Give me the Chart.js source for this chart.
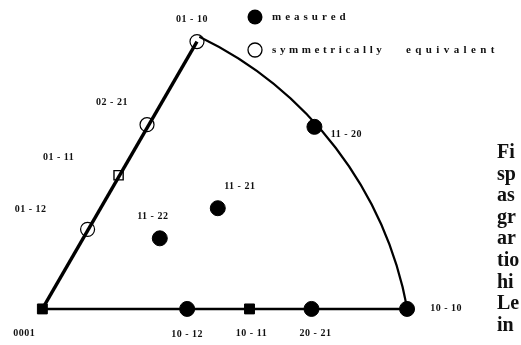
<!DOCTYPE html>
<html>
<head>
<meta charset="utf-8">
<script src="https://cdn.jsdelivr.net/npm/chart.js@4.4.1/dist/chart.umd.min.js"></script>
<style>
  html, body { margin: 0; padding: 0; background: #fff; overflow: hidden; }
  #wrap { position: relative; width: 521px; height: 345px; }
  #caption {
    position: absolute; left: 497px; top: 141px;
    font: bold 20px "Liberation Serif", serif; line-height: 21.6px;
    color: #111; white-space: pre;
  }
</style>
</head>
<body>
<div id="wrap">
  <canvas id="ipf" width="521" height="345"></canvas>
  <div id="caption">Fi
sp
as
gr
ar
tio
hi
Le
in</div>
</div>
<script>
// pole positions in the projected triangle (0001 at origin, 10-10 at x = 1)
const measuredLabels = ['10-12', '20-21', '10-10', '11-20', '11-21', '11-22'];
const measuredX = [0.397, 0.738, 1.0, 0.746, 0.481, 0.322];
const measuredY = [0, 0, 0, 0.508, 0.281, 0.197];

const measuredSqLabels = ['0001', '10-11'];
const measuredSqX = [0, 0.568];
const measuredSqY = [0, 0];

const equivLabels = ['01-10', '02-21', '01-12'];
const equivX = [0.424, 0.287, 0.124];
const equivY = [0.746, 0.514, 0.222];

const equivSqLabels = ['01-11'];
const equivSqX = [0.209];
const equivSqY = [0.373];

// triangle edges: 01-10 -> 0001 -> 10-10, closed by the outer arc
const leftEdgeX = [0.424, 0];
const leftEdgeY = [0.746, 0];
const baseEdgeX = [0, 1];
const baseEdgeY = [0, 0];
const arcCenter = [-0.0215, -0.1932];
const arcRadius = 1.0397;

const legendItems = ['measured', 'symmetrically', 'equivalent'];

const toPts = (xs, ys) => xs.map((x, i) => ({ x: x, y: ys[i] }));

// label placement around each pole, in px
const labelOffsets = {
  '0001': [-18, 24], '10-12': [0, 25], '10-11': [2, 24], '20-21': [4, 24],
  '10-10': [39, -1], '11-20': [32, 8], '11-21': [22, -22], '11-22': [-7, -22],
  '01-10': [-5, -22], '02-21': [-35, -22], '01-11': [-60, -18], '01-12': [-57, -20]
};

const arcPlugin = {
  id: 'arcEdge',
  beforeDatasetsDraw(chart) {
    const { ctx, scales } = chart;
    const sx = scales.x, sy = scales.y;
    const cx = sx.getPixelForValue(arcCenter[0]);
    const cy = sy.getPixelForValue(arcCenter[1]);
    const r = sx.getPixelForValue(arcCenter[0] + arcRadius) - cx;
    const a0 = Math.atan2(sy.getPixelForValue(leftEdgeY[0]) - cy, sx.getPixelForValue(leftEdgeX[0]) - cx);
    const a1 = Math.atan2(sy.getPixelForValue(baseEdgeY[1]) - cy, sx.getPixelForValue(baseEdgeX[1]) - cx);
    ctx.save();
    ctx.strokeStyle = '#000';
    ctx.lineWidth = 2.2;
    ctx.beginPath();
    ctx.arc(cx, cy, r, a0, a1);
    ctx.stroke();
    ctx.restore();
  }
};

const labelPlugin = {
  id: 'poleLabels',
  afterDatasetsDraw(chart) {
    const { ctx } = chart;
    ctx.save();
    ctx.fillStyle = '#111';
    ctx.font = 'bold 10px "Liberation Serif", serif';
    ctx.textAlign = 'center';
    ctx.textBaseline = 'middle';
    ctx.letterSpacing = '0.5px';
    chart.data.datasets.forEach((ds, di) => {
      if (!ds.poles) return;
      const meta = chart.getDatasetMeta(di);
      meta.data.forEach((el, i) => {
        const name = ds.poles[i];
        const off = labelOffsets[name] || [0, -14];
        ctx.fillText(name.replace('-', ' - '), el.x + off[0], el.y + off[1]);
      });
    });

    // legend
    ctx.lineWidth = 1.3;
    ctx.strokeStyle = '#000';
    ctx.fillStyle = '#000';
    ctx.beginPath();
    ctx.arc(255, 17, 7.5, 0, Math.PI * 2);
    ctx.fill();
    ctx.beginPath();
    ctx.arc(255, 50, 7, 0, Math.PI * 2);
    ctx.stroke();
    ctx.fillStyle = '#111';
    ctx.textAlign = 'left';
    ctx.font = 'bold 11px "Liberation Serif", serif';
    ctx.letterSpacing = '4px';
    ctx.fillText(legendItems[0], 272, 17);
    ctx.letterSpacing = '3.6px';
    ctx.fillText(legendItems[1], 272, 50);
    ctx.letterSpacing = '4.4px';
    ctx.fillText(legendItems[2], 406, 50);
    ctx.restore();
  }
};

new Chart(document.getElementById('ipf'), {
  type: 'scatter',
  data: {
    datasets: [
      {
        data: toPts(leftEdgeX, leftEdgeY), showLine: true, pointRadius: 0,
        borderColor: '#000', borderWidth: 3.4
      },
      {
        data: toPts(baseEdgeX, baseEdgeY), showLine: true, pointRadius: 0,
        borderColor: '#000', borderWidth: 2.6
      },
      {
        label: 'measured', poles: measuredLabels,
        data: toPts(measuredX, measuredY), pointStyle: 'circle', pointRadius: 7.5,
        backgroundColor: '#000', borderColor: '#000', borderWidth: 1
      },
      {
        label: 'measured', poles: measuredSqLabels,
        data: toPts(measuredSqX, measuredSqY), pointStyle: 'rect', pointRadius: 7,
        backgroundColor: '#000', borderColor: '#000', borderWidth: 1
      },
      {
        label: 'symmetrically equivalent', poles: equivLabels,
        data: toPts(equivX, equivY), pointStyle: 'circle', pointRadius: 7,
        backgroundColor: 'rgba(0,0,0,0)', borderColor: '#000', borderWidth: 1.2
      },
      {
        label: 'symmetrically equivalent', poles: equivSqLabels,
        data: toPts(equivSqX, equivSqY), pointStyle: 'rect', pointRadius: 6.5,
        backgroundColor: 'rgba(0,0,0,0)', borderColor: '#000', borderWidth: 1.4
      }
    ]
  },
  options: {
    responsive: false,
    animation: false,
    layout: { padding: 0 },
    events: [],
    scales: {
      x: { type: 'linear', display: false, min: -35 / 377, max: 486 / 377 },
      y: { type: 'linear', display: false, min: -29 / 377, max: 316 / 377 }
    },
    plugins: { legend: { display: false }, tooltip: { enabled: false } }
  },
  plugins: [arcPlugin, labelPlugin]
});
</script>
</body>
</html>
